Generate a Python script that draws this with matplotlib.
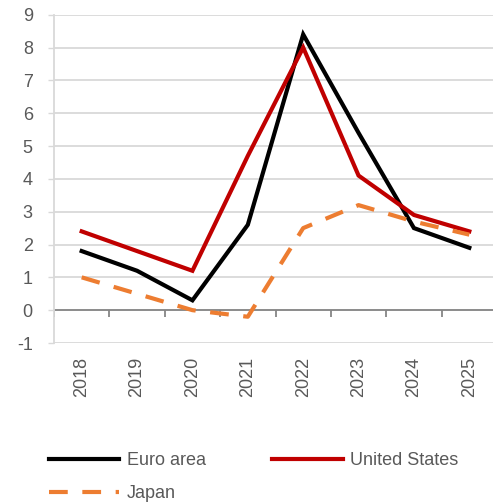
import numpy as np
import matplotlib
matplotlib.use("Agg")
import matplotlib.pyplot as plt

years = ["2018", "2019", "2020", "2021", "2022", "2023", "2024", "2025"]
euro_area = [1.8, 1.2, 0.3, 2.6, 8.4, 5.4, 2.5, 1.9]
united_states = [2.4, 1.8, 1.2, 4.7, 8.0, 4.1, 2.9, 2.4]
japan = [1.0, 0.5, 0.0, -0.2, 2.5, 3.2, 2.7, 2.3]

plt.rcParams["font.family"] = ["Liberation Sans", "DejaVu Sans"]
plt.rcParams["axes.unicode_minus"] = False
text_grey = "#595959"
grid_grey = "#D9D9D9"

fig = plt.figure(figsize=(4.93, 5.04), dpi=100)
ax = fig.add_axes([54 / 493, 1 - 343 / 504, 443 / 493, (343 - 14.7) / 504])

x = np.arange(len(years))
l_ea, = ax.plot(x, euro_area, color="black", lw=3, label="Euro area", solid_joinstyle="miter")
l_us, = ax.plot(x, united_states, color="#C00000", lw=3, label="United States", solid_joinstyle="miter")
l_jp, = ax.plot(x, japan, color="#ED7D31", lw=3, label="Japan", dashes=(4.5, 3.5))

ax.set_xlim(-0.5, len(years) - 0.5)
ax.set_ylim(-1, 9)
ax.set_yticks(range(-1, 10))
ax.yaxis.grid(True, color=grid_grey, lw=1.3)
ax.set_axisbelow(True)

# zero line with category separators
ax.axhline(0, color="#868686", lw=1.3, zorder=1.5)
bounds = np.arange(len(years) + 1) - 0.5
ax.vlines(bounds, -0.2, 0, color="#868686", lw=1.3, zorder=1.5)

ax.set_xticks(x)
ax.set_xticklabels(years, rotation=90, fontsize=13, color=text_grey)
ax.tick_params(axis="x", length=0, pad=10)
ax.tick_params(axis="y", length=4.3, width=1, color=grid_grey, labelsize=13,
               labelcolor=text_grey, pad=11)
for side in ["top", "right", "bottom"]:
    ax.spines[side].set_visible(False)
ax.spines["left"].set_color(grid_grey)
ax.spines["left"].set_linewidth(1.3)

# column-major fill: Euro area / Japan in first column, United States in second
leg = fig.legend([l_ea, l_jp, l_us], ["Euro area", "Japan", "United States"],
                 loc="upper left", bbox_to_anchor=(40 / 493, 1 - 443 / 504), ncol=2,
                 frameon=False, fontsize=13, handlelength=3.9, handletextpad=0.4,
                 columnspacing=3.7, labelspacing=0.9, borderpad=0)
for t in leg.get_texts():
    t.set_color(text_grey)

fig.savefig("out.png", dpi=100)
